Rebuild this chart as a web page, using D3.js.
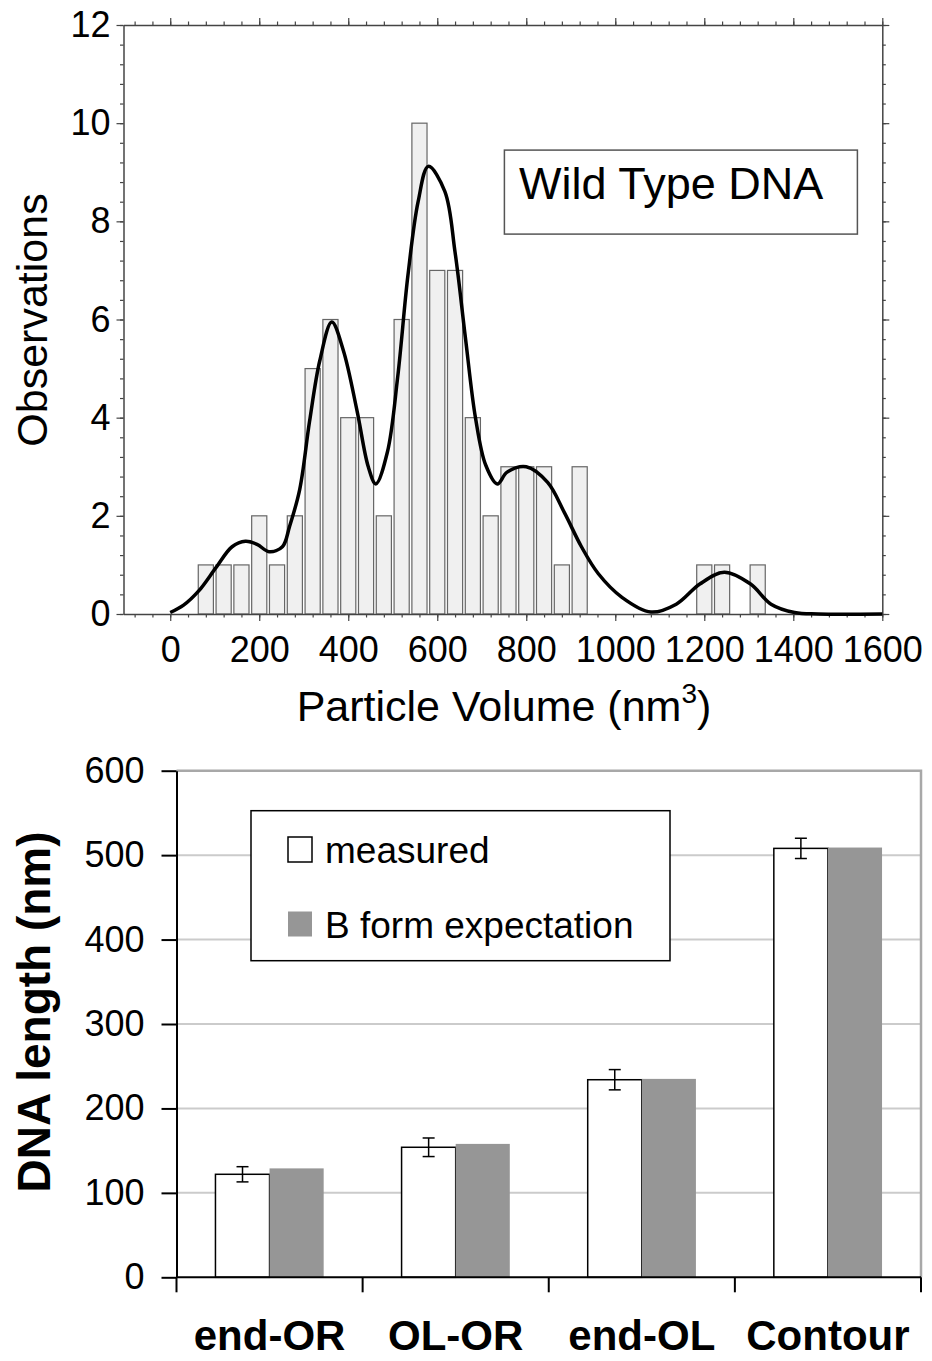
<!doctype html>
<html>
<head>
<script src="https://d3js.org/d3.v7.min.js"></script>
<style>
  body { margin: 0; background: #fff; }
  text { font-family: 'Liberation Sans', Arial, sans-serif; fill: #000; }
  .tick text { font-size: 36px; }
</style>
</head>
<body>
<svg id="chart" width="932" height="1361"></svg>
<script>
// --- histogram (top) ---
const binCenters = [80, 120, 160, 200, 240, 280, 320, 360, 400, 440, 480, 520, 560, 600, 640, 680, 720, 760, 800, 840, 880, 920, 1200, 1240, 1320];
const binCounts  = [1, 1, 1, 2, 1, 2, 5, 6, 4, 4, 2, 6, 10, 7, 7, 4, 2, 3, 3, 3, 1, 3, 1, 1, 1];
const curveVolume = [0, 30, 64, 104, 139, 169, 195, 222, 252, 268, 291, 313, 336, 363, 389, 420, 445, 462, 488, 511, 534, 557, 580, 617, 640, 663, 686, 709, 735, 757, 800, 848, 886, 924, 962, 1015, 1080, 1137, 1190, 1245, 1304, 1350, 1403, 1456, 1600];
const curveObs    = [0.03, 0.18, 0.47, 0.96, 1.37, 1.48, 1.42, 1.27, 1.37, 1.78, 2.54, 3.92, 5.16, 5.95, 5.37, 4.13, 3.0, 2.65, 3.3, 4.82, 6.89, 8.4, 9.12, 8.61, 7.37, 5.65, 3.99, 3.03, 2.65, 2.89, 3.0, 2.68, 2.06, 1.37, 0.82, 0.34, 0.04, 0.2, 0.61, 0.85, 0.61, 0.2, 0.03, 0.0, 0.0];
const volumeTicks = [0, 200, 400, 600, 800, 1000, 1200, 1400, 1600];
const obsTicks = [0, 2, 4, 6, 8, 10, 12];

// --- bar chart (bottom) ---
const segments = ["end-OR", "OL-OR", "end-OL", "Contour"];
const measured = [122, 154, 234, 508];
const measuredErr = [9, 11, 12, 12];
const bForm = [129, 158, 235, 509];
const lengthTicks = [0, 100, 200, 300, 400, 500, 600];

const svg = d3.select("#chart");

// ================= top chart =================
const x = d3.scaleLinear().domain([-105, 1600]).range([123.5, 882.3]);
const y = d3.scaleLinear().domain([0, 12]).range([614, 25]);
const binHalf = 17;
const frameColor = "#444";

const histG = svg.append("g");

histG.append("g").selectAll("rect")
    .data(binCenters)
    .enter()
    .append("rect")
    .attr("x", d => x(d - binHalf))
    .attr("width", d => x(d + binHalf) - x(d - binHalf))
    .attr("y", (d, i) => y(binCounts[i]))
    .attr("height", (d, i) => y(0) - y(binCounts[i]))
    .style("fill", "#f0f0f0")
    .style("stroke", "#666")
    .style("stroke-width", 1.2);

const minorX = d3.range(-80, 1601, 40);
const minorY = d3.range(0, 12.01, 0.4);

function styleAxis(g) {
    g.selectAll("path.domain").style("stroke", frameColor).style("stroke-width", 1.5);
    g.selectAll(".tick line").style("stroke", frameColor).style("stroke-width", 1.2);
}

// bottom
histG.append("g").attr("transform", "translate(0,614)")
    .call(d3.axisBottom(x).tickValues(minorX).tickSize(3.5).tickSizeOuter(0).tickFormat(""))
    .call(styleAxis);
histG.append("g").attr("transform", "translate(0,614)")
    .call(d3.axisBottom(x).tickValues(volumeTicks).tickSize(7).tickSizeOuter(0).tickPadding(15).tickFormat(d3.format("d")))
    .call(styleAxis)
    .call(g => g.select("path.domain").remove());
// top
histG.append("g").attr("transform", "translate(0,25)")
    .call(d3.axisTop(x).tickValues(minorX).tickSize(3.5).tickSizeOuter(0).tickFormat(""))
    .call(styleAxis);
histG.append("g").attr("transform", "translate(0,25)")
    .call(d3.axisTop(x).tickValues(volumeTicks).tickSize(7).tickSizeOuter(0).tickFormat(""))
    .call(styleAxis)
    .call(g => g.select("path.domain").remove());
// left
histG.append("g").attr("transform", "translate(123.5,0)")
    .call(d3.axisLeft(y).tickValues(minorY).tickSize(3.5).tickSizeOuter(0).tickFormat(""))
    .call(styleAxis);
histG.append("g").attr("transform", "translate(123.5,0)")
    .call(d3.axisLeft(y).tickValues(obsTicks).tickSize(7).tickSizeOuter(0).tickPadding(6))
    .call(styleAxis)
    .call(g => g.select("path.domain").remove());
// right
histG.append("g").attr("transform", "translate(882.3,0)")
    .call(d3.axisRight(y).tickValues(minorY).tickSize(3.5).tickSizeOuter(0).tickFormat(""))
    .call(styleAxis);
histG.append("g").attr("transform", "translate(882.3,0)")
    .call(d3.axisRight(y).tickValues(obsTicks).tickSize(7).tickSizeOuter(0).tickFormat(""))
    .call(styleAxis)
    .call(g => g.select("path.domain").remove());

// fitted curve
const line = d3.line()
    .x(d => x(d))
    .y((d, i) => y(curveObs[i]))
    .curve(d3.curveCatmullRom.alpha(0.5));
histG.append("path")
    .attr("d", line(curveVolume))
    .style("fill", "none")
    .style("stroke", "#000")
    .style("stroke-width", 3.5)
    .style("stroke-linejoin", "round");

// legend box
histG.append("rect")
    .attr("x", 504.4).attr("y", 150.1)
    .attr("width", 353).attr("height", 84)
    .style("fill", "#fff").style("stroke", "#555").style("stroke-width", 1.5);
histG.append("text")
    .attr("x", 519).attr("y", 199)
    .style("font-size", "45px")
    .text("Wild Type DNA");

// axis titles
const xTitle = histG.append("text")
    .attr("x", 504).attr("y", 721)
    .attr("text-anchor", "middle")
    .style("font-size", "43px");
xTitle.append("tspan").text("Particle Volume (nm");
xTitle.append("tspan").attr("dy", -18).style("font-size", "28px").text("3");
xTitle.append("tspan").attr("dy", 18).text(")");

histG.append("text")
    .attr("transform", "translate(47,320)rotate(-90)")
    .attr("text-anchor", "middle")
    .style("font-size", "43px")
    .text("Observations");

// ================= bottom chart =================
const yb = d3.scaleLinear().domain([0, 600]).range([1277.3, 770.7]);
const xb = d3.scaleBand().domain(segments).range([176.5, 921]);
const sub = d3.scaleBand().domain(["measured", "bform"]).range([0, xb.bandwidth()]).paddingOuter(0.72);

const barG = svg.append("g");

// gridlines
barG.append("g").selectAll("line")
    .data(lengthTicks.filter(d => d > 0 && d < 600))
    .enter()
    .append("line")
    .attr("x1", 176.5).attr("x2", 921)
    .attr("y1", d => yb(d)).attr("y2", d => yb(d))
    .style("stroke", "#cbcbcb").style("stroke-width", 2);

// plot border (top & right)
barG.append("path")
    .attr("d", `M176.5,${yb(600)}H921V${yb(0)}`)
    .style("fill", "none").style("stroke", "#a8a8a8").style("stroke-width", 2.5);

// bars
barG.append("g").selectAll("rect")
    .data(segments)
    .enter()
    .append("rect")
    .attr("x", d => xb(d) + sub("measured"))
    .attr("width", sub.bandwidth())
    .attr("y", (d, i) => yb(measured[i]))
    .attr("height", (d, i) => yb(0) - yb(measured[i]))
    .style("fill", "#fff").style("stroke", "#000").style("stroke-width", 1.5);

barG.append("g").selectAll("rect")
    .data(segments)
    .enter()
    .append("rect")
    .attr("x", d => xb(d) + sub("bform"))
    .attr("width", sub.bandwidth())
    .attr("y", (d, i) => yb(bForm[i]))
    .attr("height", (d, i) => yb(0) - yb(bForm[i]))
    .style("fill", "#969696");

// error bars
const err = barG.append("g").style("stroke", "#000").style("stroke-width", 1.5);
segments.forEach((d, i) => {
    const cx = xb(d) + sub("measured") + sub.bandwidth() / 2;
    const lo = yb(measured[i] - measuredErr[i]);
    const hi = yb(measured[i] + measuredErr[i]);
    err.append("line").attr("x1", cx).attr("x2", cx).attr("y1", lo).attr("y2", hi);
    err.append("line").attr("x1", cx - 6).attr("x2", cx + 6).attr("y1", lo).attr("y2", lo);
    err.append("line").attr("x1", cx - 6).attr("x2", cx + 6).attr("y1", hi).attr("y2", hi);
});

// y axis
barG.append("g").attr("transform", "translate(176.5,0)")
    .call(d3.axisLeft(yb).tickValues(lengthTicks).tickSize(15).tickSizeOuter(0).tickPadding(17))
    .call(g => g.selectAll("path.domain").style("stroke", "#000").style("stroke-width", 2))
    .call(g => g.selectAll(".tick line").style("stroke", "#000").style("stroke-width", 2));

// x axis
barG.append("line")
    .attr("x1", 176.5).attr("x2", 921)
    .attr("y1", yb(0)).attr("y2", yb(0))
    .style("stroke", "#000").style("stroke-width", 2);
barG.append("g").selectAll("line")
    .data(segments.map(d => xb(d)).concat([921]))
    .enter()
    .append("line")
    .attr("x1", d => d).attr("x2", d => d)
    .attr("y1", yb(0)).attr("y2", yb(0) + 15)
    .style("stroke", "#000").style("stroke-width", 2);

barG.append("g").selectAll("text")
    .data(segments)
    .enter()
    .append("text")
    .attr("x", d => xb(d) + xb.bandwidth() / 2)
    .attr("y", 1350)
    .attr("text-anchor", "middle")
    .style("font-size", "42px")
    .style("font-weight", "bold")
    .text(d => d);

barG.append("text")
    .attr("transform", "translate(50,1012)rotate(-90)")
    .attr("text-anchor", "middle")
    .style("font-size", "46px")
    .style("font-weight", "bold")
    .text("DNA length (nm)");

// legend
barG.append("rect")
    .attr("x", 251).attr("y", 810.7)
    .attr("width", 419).attr("height", 150)
    .style("fill", "#fff").style("stroke", "#000").style("stroke-width", 1.5);
const legendItems = [
    { label: "measured", fill: "#fff", stroke: "#000", y: 837 },
    { label: "B form expectation", fill: "#969696", stroke: "none", y: 911.5 }
];
const li = barG.append("g").selectAll("g").data(legendItems).enter().append("g");
li.append("rect")
    .attr("x", 288).attr("y", d => d.y)
    .attr("width", 24).attr("height", 25)
    .style("fill", d => d.fill).style("stroke", d => d.stroke).style("stroke-width", 1.5);
li.append("text")
    .attr("x", 325).attr("y", d => d.y + 26)
    .style("font-size", "37px")
    .text(d => d.label);
</script>
</body>
</html>
